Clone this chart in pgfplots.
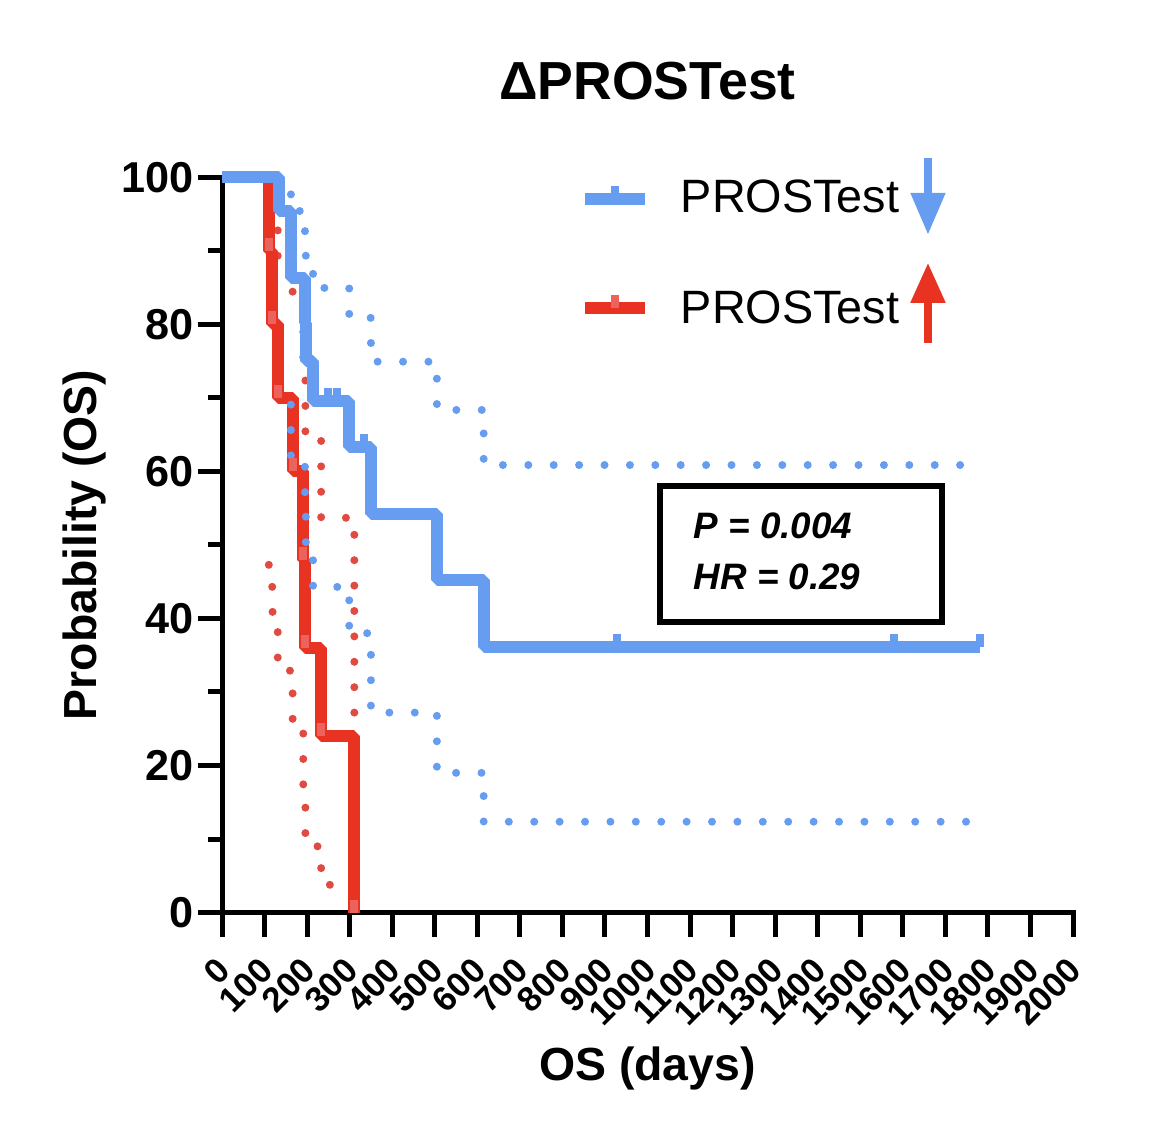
\documentclass[border=0pt]{standalone}
\usepackage{fontspec}
\setmainfont{Liberation Sans}
\usepackage{pgfplots}
\pgfplotsset{compat=1.18}
\usetikzlibrary{arrows.meta}

\definecolor{kmblue}{RGB}{103,157,240}
\definecolor{kmred}{RGB}{232,51,35}
\definecolor{kmreddot}{RGB}{224,74,64}
\definecolor{kmredtick}{RGB}{236,98,92}

% censor tick: a short stroke rising from the curve
\pgfdeclareplotmark{cens}{%
  \pgfpathmoveto{\pgfpointorigin}%
  \pgfpathlineto{\pgfpoint{0pt}{\pgfplotmarksize}}%
  \pgfusepathqstroke}

\tikzset{
  kmline/.style={const plot, no marks, line width=3pt, line join=bevel},
  kmband/.style={const plot, no marks, line width=2pt, line cap=round,
                 dash pattern=on 0pt off 6.35pt},
  kmcens/.style={only marks, mark=cens, mark size=3.25pt,
                 mark options={line width=2pt, solid}},
}

\begin{document}
\begin{tikzpicture}
\path[use as bounding box] (0,0) rectangle (294pt,283.5pt);
\begin{axis}[
  at={(55.5pt,55.375pt)}, anchor=south west,
  scale only axis, width=212.75pt, height=183.75pt,
  xmin=0, xmax=2000, ymin=0, ymax=100,
  axis lines*=left,
  axis line style={line width=1.25pt, line cap=rect},
  xtick={0,100,...,2000},
  ytick={0,20,...,100},
  minor ytick={10,30,...,90},
  tick align=outside,
  major tick length=6pt,
  minor tick length=3.5pt,
  every tick/.style={black, line width=1.25pt},
  /pgf/number format/assume math mode=true,
  /pgf/number format/1000 sep={},
  yticklabel style={font=\bfseries\fontsize{10.8}{12}\selectfont, xshift=2.5pt},
  xticklabel style={font=\bfseries\fontsize{8.7}{9}\selectfont,
                    xshift=3pt, yshift=-4.5pt, rotate=45, anchor=east},
  clip=false,
  title={ΔPROSTest},
  title style={font=\bfseries\fontsize{13.4}{16}\selectfont,
               at={(axis description cs:0.5,1.0985)}, anchor=center},
  xlabel={OS (days)},
  xlabel style={font=\bfseries\fontsize{11.6}{14}\selectfont,
                at={(axis description cs:0.5,-0.2117)}, anchor=center},
  ylabel={Probability (OS)},
  ylabel style={font=\bfseries\fontsize{11.6}{14}\selectfont,
                at={(axis description cs:-0.161,0.5)}, anchor=center},
]

% confidence bands, PROSTest up
\addplot[kmband, kmreddot] coordinates {
  (110,98.5) (118,94.6) (131,89.2) (166,82.7) (191,74.5) (196,64.8) (233,53.7) (311,24)
};
\addplot[kmband, kmreddot] coordinates {
  (110,47.3) (118,40.9) (131,32.9) (166,25.25) (191,16.1) (196,9.0) (233,3.77) (311,3.77)
};

% survival, PROSTest up
\addplot[kmline, kmred] coordinates {
  (0,100) (110,90) (118,80) (131,70) (166,60) (191,48) (196,36) (233,24) (311,0)
};
\addplot[kmcens, kmredtick] coordinates {
  (110,90) (118,80) (131,70) (166,60) (191,48) (196,36) (233,24) (311,0)
};

% survival, PROSTest down
\addplot[kmline, kmblue] coordinates {
  (0,100) (134,95.45) (162,86.36) (195,80.2) (197,75.0) (214,69.64) (299,63.31)
  (350,54.27) (505,45.22) (615,36.18) (1781,36.18)
};
\addplot[kmcens, kmblue] coordinates {
  (249,69.64) (270,69.64) (334,63.31) (929,36.18) (1579,36.18) (1781,36.18)
};

% confidence bands, PROSTest down
\addplot[kmband, kmblue] coordinates {
  (162,97.7) (162,95.44) (195,90.5) (197,88.1) (214,84.97) (299,80.9)
  (350,74.94) (505,68.37) (615,60.88) (1781,60.88)
};
\addplot[kmband, kmblue] coordinates {
  (162,69.1) (162,61.6) (195,54.5) (197,48.6) (214,44.3) (299,38.0)
  (350,27.2) (505,19.0) (615,12.35) (1781,12.35)
};

% legend
\draw[kmblue, line width=3pt] (853.1,97.14) -- (994.1,97.14);
\draw[kmblue, line width=2pt] (923.6,97.14) -- ++(0pt,3.25pt);
\node[anchor=west, inner sep=0pt, font=\fontsize{11.7}{13}\selectfont] at (1076.4,97.48) {PROSTest};
\draw[kmblue, line width=2pt, -{Triangle[width=8.25pt, length=10.5pt]}] (1659.2,102.7) -- (1659.2,92.2);

\draw[kmred, line width=3pt] (853.1,82.18) -- (994.1,82.18);
\draw[kmredtick, line width=2pt] (923.6,82.18) -- ++(0pt,3.25pt);
\node[anchor=west, inner sep=0pt, font=\fontsize{11.7}{13}\selectfont] at (1076.4,82.3) {PROSTest};
\draw[kmred, line width=2pt, -{Triangle[width=8.25pt, length=10pt]}] (1659.2,77.5) -- (1659.2,88.4);

% statistics box
\draw[line width=1.6pt] (1029.4,58.03) rectangle (1692.1,39.52);
\node[anchor=base west, inner sep=0pt, font=\bfseries\itshape\fontsize{9.2}{10}\selectfont] at (1106.9,50.95) {P = 0.004};
\node[anchor=base west, inner sep=0pt, font=\bfseries\itshape\fontsize{9.2}{10}\selectfont] at (1106.9,43.88) {HR = 0.29};
\end{axis}
\end{tikzpicture}
\end{document}
